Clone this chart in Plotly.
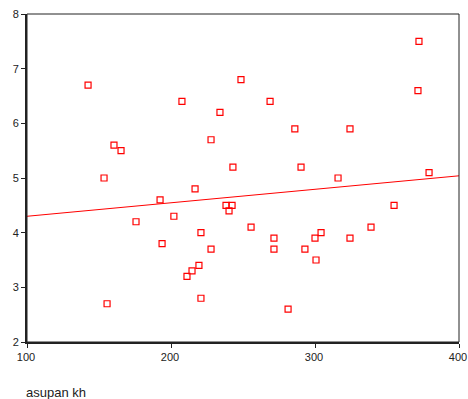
import plotly.graph_objects as go

asupan_kh = [142.4, 207.6, 248.6, 234.0, 268.8, 371.5, 372.2, 227.8, 286.0, 324.3,
             160.4, 165.3, 153.5, 243.0, 290.3, 316.0, 379.2, 216.7, 192.4, 238.2,
             242.4, 240.3, 354.9, 202.0, 175.7, 255.6, 338.9, 220.8, 271.5, 300.0,
             324.3, 304.2, 193.8, 227.8, 271.5, 293.0, 300.7, 219.4, 214.6, 211.1,
             155.6, 220.8, 281.3]
y_vals = [6.7, 6.4, 6.8, 6.2, 6.4, 6.6, 7.5, 5.7, 5.9, 5.9,
          5.6, 5.5, 5.0, 5.2, 5.2, 5.0, 5.1, 4.8, 4.6, 4.5,
          4.5, 4.4, 4.5, 4.3, 4.2, 4.1, 4.1, 4.0, 3.9, 3.9,
          3.9, 4.0, 3.8, 3.7, 3.7, 3.7, 3.5, 3.4, 3.3, 3.2,
          2.7, 2.8, 2.6]
fit_x = [100, 400]
fit_y = [4.30, 5.04]
x_ticks = [100, 200, 300, 400]
y_ticks = [2, 3, 4, 5, 6, 7, 8]

fig = go.Figure()
fig.add_trace(go.Scatter(x=fit_x, y=fit_y, mode="lines",
                         line=dict(color="#ff0000", width=1), showlegend=False))
fig.add_trace(go.Scatter(x=asupan_kh, y=y_vals, mode="markers",
                         marker=dict(symbol="square-open", size=6, color="#ff0000",
                                     line=dict(width=1.2, color="#ff0000")),
                         showlegend=False))

fig.update_layout(
    width=468, height=399,
    margin=dict(l=27, r=9, t=14, b=57),
    plot_bgcolor="white", paper_bgcolor="white",
    font=dict(family="Liberation Sans, Arial", size=11, color="#222222"),
    xaxis=dict(range=[100, 400], tickvals=x_ticks, showgrid=False, zeroline=False,
               showline=True, linecolor="#222222", linewidth=2, automargin=False,
               ticklabeloverflow="allow", ticklabelshift=-1,
               ticks="outside", ticklen=4, tickcolor="#222222"),
    yaxis=dict(range=[2, 8], tickvals=y_ticks, showgrid=False, zeroline=False,
               showline=True, linecolor="#222222", linewidth=2, automargin=False,
               ticklabeloverflow="allow",
               ticks="outside", ticklen=4, tickcolor="#222222"),
    shapes=[dict(type="rect", xref="paper", yref="paper", x0=0, x1=1, y0=0, y1=1,
                 line=dict(color="#222222", width=1))],
    annotations=[dict(text="asupan kh", xref="paper", yref="paper", x=-0.007, y=-0.155,
                      xanchor="left", yanchor="middle", showarrow=False,
                      font=dict(size=13, color="#222222"))],
)
# remove the page's default body margin so the figure sits at the window's corner
fig.write_html("out.html", config={"displayModeBar": False},
               post_script="document.body.style.margin='0';document.body.style.overflow='hidden';")
